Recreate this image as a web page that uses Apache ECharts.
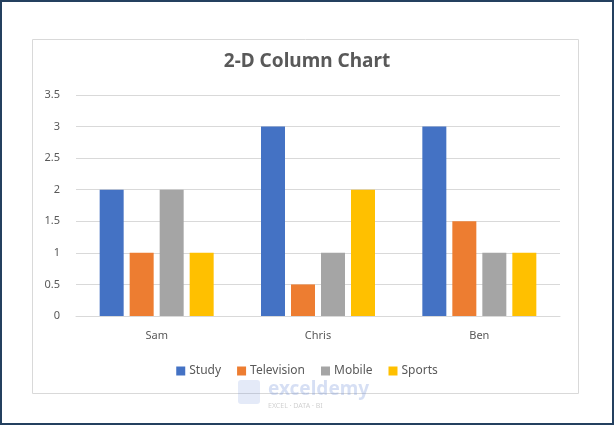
<!DOCTYPE html>
<html><head><meta charset="utf-8">
<script src="https://cdn.jsdelivr.net/npm/echarts@6/dist/echarts.min.js"></script>
<style>html,body{margin:0;padding:0;background:#fff}#c{width:614px;height:425px}</style>
</head><body><div id="c"></div>
<script>
const categories = ['Sam', 'Chris', 'Ben'];
const seriesNames = ['Study', 'Television', 'Mobile', 'Sports'];
const study = [2, 3, 3];
const television = [1, 0.5, 1.5];
const mobile = [2, 1, 1];
const sports = [1, 2, 1];
const yTicks = ['0', '0.5', '1', '1.5', '2', '2.5', '3', '3.5'];
const colors = ['#4472C4', '#ED7D31', '#A5A5A5', '#FFC000'];
const values = [study, television, mobile, sports];
const font = 'Noto Sans';

const chart = echarts.init(document.getElementById('c'), null, {renderer: 'canvas'});
chart.setOption({
  animation: false,
  textStyle: {fontFamily: font},
  title: {
    text: '2-D Column Chart', left: 'center', top: 47,
    textStyle: {fontFamily: font, fontSize: 19, fontWeight: 'bold', color: '#595959'}
  },
  legend: {
    data: seriesNames, left: 'center', top: 360, itemWidth: 9, itemHeight: 9, itemGap: 16,
    icon: 'rect',
    textStyle: {fontFamily: font, fontSize: 12, color: '#595959', padding: [0, 0, 0, -1]}
  },
  grid: {left: 76, right: 54, top: 95, bottom: 109, containLabel: false},
  xAxis: {
    type: 'category', data: categories,
    axisLine: {lineStyle: {color: '#D9D9D9'}},
    axisTick: {show: false},
    axisLabel: {fontFamily: font, fontSize: 11, color: '#595959', margin: 14}
  },
  yAxis: {
    type: 'value', min: 0, max: 3.5, interval: 0.5,
    axisLine: {show: false}, axisTick: {show: false},
    splitLine: {lineStyle: {color: '#D9D9D9'}},
    axisLabel: {fontFamily: font, fontSize: 11, color: '#595959', margin: 16,
      formatter: v => yTicks[Math.round(v / 0.5)]}
  },
  series: seriesNames.map((n, i) => ({
    name: n, type: 'bar', data: values[i], barWidth: 24, barGap: '25%',
    itemStyle: {color: colors[i]}
  })),
  graphic: [
    {type: 'rect', shape: {x: 1, y: 1, width: 612, height: 423}, style: {fill: 'none', stroke: '#24405f', lineWidth: 2}, silent: true},
    {type: 'rect', shape: {x: 32.5, y: 39.5, width: 546, height: 354}, style: {fill: 'none', stroke: '#D9D9D9', lineWidth: 1}, silent: true},
    {type: 'text', left: 268, top: 380, style: {text: 'exceldemy', fontFamily: font, fontSize: 19, fontWeight: 'bold', fill: 'rgba(120,150,220,0.3)'}, silent: true},
    {type: 'text', left: 268, top: 402, style: {text: 'EXCEL · DATA · BI', fontFamily: font, fontSize: 7, fill: 'rgba(150,150,150,0.45)'}, silent: true},
    {type: 'rect', shape: {x: 238, y: 380, width: 22, height: 24, r: 3}, style: {fill: 'rgba(120,150,220,0.2)'}, silent: true}
  ]
});
</script></body></html>
